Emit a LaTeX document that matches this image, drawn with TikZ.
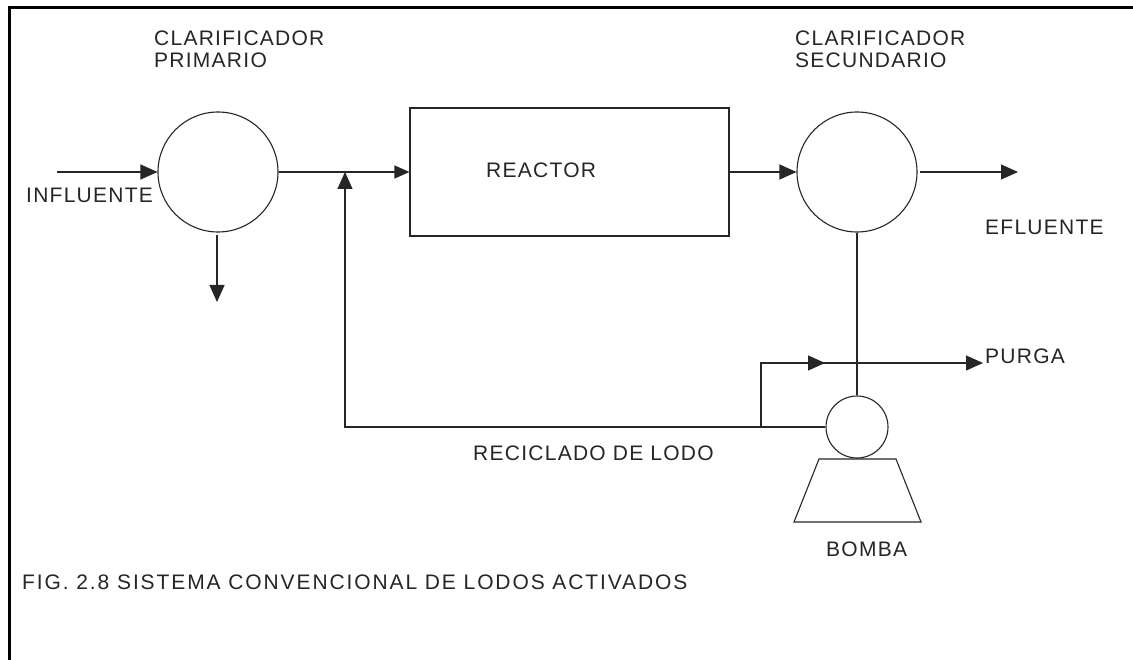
\documentclass[tikz,border=0pt]{standalone}
\usepackage{fontspec}
\setmainfont{Liberation Sans}
\usetikzlibrary{arrows.meta}
\tikzset{
  x=1pt, y=-1pt,
  lbl/.style={inner sep=0pt, anchor=base west, text=black!85,
    font=\fontsize{21}{24}\selectfont\addfontfeature{LetterSpace=6}},
  figlbl/.style={lbl, font=\fontsize{21}{24}\selectfont\addfontfeature{LetterSpace=9}},
  ln/.style={line width=1.1pt, draw=black!85},
  tip/.style={-{Triangle[length=17pt,width=15pt]}},
  tank/.style={circle, draw=black!85, line width=1.1pt, inner sep=0pt, minimum size=120pt},
  pumpc/.style={circle, draw=black!85, line width=1.1pt, inner sep=0pt, minimum size=62pt},
  box/.style={rectangle, draw=black!85, line width=1.1pt, inner sep=0pt}
}
\begin{document}
\begin{tikzpicture}
\useasboundingbox (0,0) rectangle (1133,660);
\fill[white] (0,0) rectangle (1133,660);
% frame
\draw[line width=3pt] (9,660) -- (9,8) -- (1133,8);

% nodes
\node[tank] (cp) at (218,172) {};
\node[tank] (cs) at (857,172) {};
\node[box, minimum width=319pt, minimum height=128pt] (reac) at (569.5,172) {};
\node[pumpc] (pump) at (857,427) {};

% labels
\node[lbl] (tcp1) at (154,46) {CLARIFICADOR};
\node[lbl] (tcp2) at (154,68) {PRIMARIO};
\node[lbl] (tcs1) at (795,46) {CLARIFICADOR};
\node[lbl] (tcs2) at (795,68) {SECUNDARIO};
\node[lbl] (treac) at (486,178) {REACTOR};
\node[lbl] (tinf) at (26,203) {INFLUENTE};
\node[lbl] (tefl) at (985,235) {EFLUENTE};
\node[lbl] (tpur) at (985,363) {PURGA};
\node[lbl] (trec) at (473,460) {RECICLADO DE LODO};
\node[lbl] (tbom) at (826,556) {BOMBA};
\node[figlbl] (tfig) at (22,589) {FIG. 2.8 SISTEMA CONVENCIONAL DE LODOS ACTIVADOS};

% coordinates
\coordinate (inA) at (57,172);
\coordinate (dA) at (217,235);
\coordinate (dB) at (217,302);
\coordinate (junc) at (345,172);
\coordinate (recC) at (345,427);
\coordinate (split) at (761,427);
\coordinate (pu1) at (761,363);
\coordinate (pumid) at (825,363);
\coordinate (puend) at (983,363);
\coordinate (efA) at (920,172);
\coordinate (efB) at (1018,172);
\coordinate (t1) at (819,459);
\coordinate (t2) at (896,459);
\coordinate (t3) at (921,522);
\coordinate (t4) at (794,522);

% connectors
\draw[ln,tip] (inA) -- (cp.west);
\draw[ln,tip] (dA) -- (dB);
\draw[ln] (cp.east) -- (junc);
\draw[ln,-{Triangle[length=15pt,width=13pt]}] (junc) -- (reac.west);
\draw[ln,tip] (reac.east |- cs.west) -- (cs.west);
\draw[ln,tip] (efA) -- (efB);
\draw[ln] (cs.south) -- (pump.north);
\draw[ln,tip] (pump.west) -- (recC) -- (junc);
\draw[ln,tip] (split) -- (pu1) -- (pumid);
\draw[ln,tip] (pu1) -- (puend);

% pump base
\draw[ln] (t1) -- (t2) -- (t3) -- (t4) -- cycle;
\end{tikzpicture}
\end{document}
